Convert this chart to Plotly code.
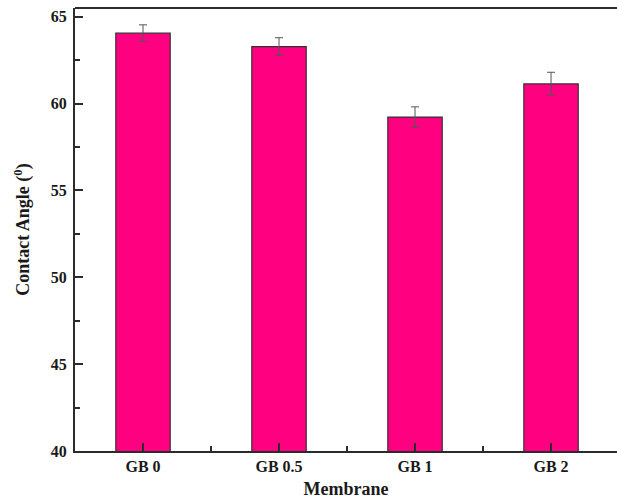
import plotly.graph_objects as go

# Water contact angle of each membrane (degrees), with standard deviation
membranes = ["GB 0", "GB 0.5", "GB 1", "GB 2"]
contact_angle = [64.05, 63.28, 59.22, 61.13]
angle_error = [0.48, 0.51, 0.59, 0.67]

y_ticks = [40, 45, 50, 55, 60, 65]

positions = list(range(len(membranes)))
font_family = "Liberation Serif, Times New Roman, serif"
axis_color = "#2b2b2b"
text_color = "#1a1a1a"

fig = go.Figure(
    go.Bar(
        x=positions,
        y=contact_angle,
        width=0.4,
        marker=dict(color="#FF0080", line=dict(color="#333333", width=1.2)),
        error_y=dict(
            type="data",
            array=angle_error,
            visible=True,
            color="#555555",
            thickness=1,
            width=4,
        ),
    )
)

fig.update_xaxes(
    range=[-0.5, 3.485],
    tickmode="array",
    tickvals=positions,
    ticktext=["<b>%s</b>" % m for m in membranes],
    ticks="inside",
    ticklen=8,
    tickwidth=1.5,
    tickcolor=axis_color,
    # short ticks half-way between neighbouring membranes
    minor=dict(
        tickmode="linear",
        tick0=0.5,
        dtick=1,
        ticks="inside",
        ticklen=5,
        tickwidth=1.5,
        tickcolor=axis_color,
        showgrid=False,
    ),
    showline=True,
    linewidth=2,
    linecolor=axis_color,
    mirror=False,
    showgrid=False,
    zeroline=False,
    tickfont=dict(family=font_family, size=16, color=text_color),
    title=dict(
        text="<b>Membrane</b>",
        font=dict(family=font_family, size=18, color=text_color),
        standoff=8,
    ),
)

fig.update_yaxes(
    range=[40, 65.5],
    tickmode="array",
    tickvals=y_ticks,
    ticktext=["<b>%d</b>" % v for v in y_ticks],
    ticks="inside",
    ticklen=8,
    tickwidth=1.5,
    tickcolor=axis_color,
    minor=dict(
        tickmode="linear",
        tick0=42.5,
        dtick=5,
        ticks="inside",
        ticklen=5,
        tickwidth=1.5,
        tickcolor=axis_color,
        showgrid=False,
    ),
    showline=True,
    linewidth=2,
    linecolor=axis_color,
    mirror=False,
    showgrid=False,
    zeroline=False,
    ticklabelstandoff=3,
    tickfont=dict(family=font_family, size=16, color=text_color),
    title=dict(
        text="<b>Contact Angle (<sup>0</sup>)</b>",
        font=dict(family=font_family, size=18, color=text_color),
        standoff=16,
    ),
)

# Frame line along the top of the plotting area
fig.add_shape(
    type="line",
    xref="paper",
    yref="paper",
    x0=0,
    x1=1,
    y0=1,
    y1=1,
    line=dict(color=axis_color, width=2),
)

fig.update_layout(
    width=617,
    height=504,
    margin=dict(l=75, r=0, t=8, b=53),
    paper_bgcolor="white",
    plot_bgcolor="white",
    showlegend=False,
)

fig.write_html("out.html")
